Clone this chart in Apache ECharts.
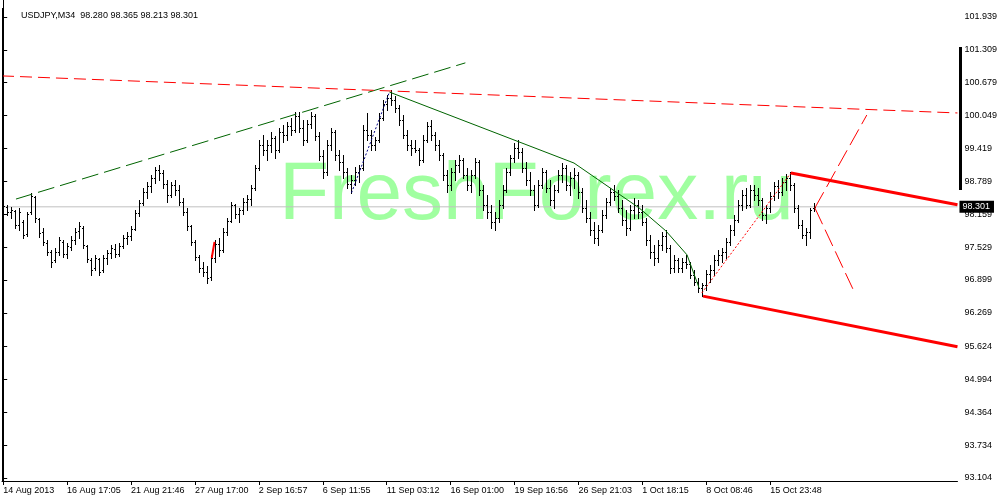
<!DOCTYPE html>
<html><head><meta charset="utf-8">
<script src="https://cdn.jsdelivr.net/npm/echarts@6/dist/echarts.min.js"></script>
<style>html,body{margin:0;padding:0;background:#fff}#c{width:1000px;height:500px}</style>
</head><body><div id="c"></div>
<script>
const headerText = 'USDJPY,M34  98.280 98.365 98.213 98.301';
const watermarkText = 'FreshForex.ru';

const opens = [
98.24,98.30,98.20,98.22,97.95,98.01,97.78,98.20,98.49,98.07,
97.82,97.61,97.44,97.28,97.44,97.63,97.40,97.53,97.67,97.84,
97.90,97.55,97.28,97.13,97.30,97.09,97.32,97.42,97.49,97.40,
97.55,97.70,97.74,97.88,98.18,98.38,98.59,98.70,98.85,99.01,
98.95,98.74,98.53,98.72,98.62,98.39,98.20,97.93,97.63,97.34,
97.13,97.05,96.96,97.32,97.59,97.47,97.82,98.03,98.34,98.16,
98.24,98.39,98.45,98.66,99.05,99.49,99.39,99.49,99.62,99.39,
99.74,99.68,99.85,99.77,100.04,99.81,99.58,99.89,100.04,99.66,
99.27,98.97,99.49,99.74,99.29,99.16,98.97,98.74,98.82,98.97,
99.05,99.77,99.68,99.49,99.58,100.00,100.27,100.39,100.35,100.20,
99.97,99.68,99.49,99.43,99.39,99.20,99.58,99.85,99.68,99.49,
99.29,98.91,98.72,98.97,99.10,99.20,98.91,98.72,98.91,99.16,
98.62,98.34,98.20,98.01,98.09,98.34,98.62,98.97,99.24,99.43,
99.35,99.05,98.82,98.62,98.34,98.72,98.97,98.66,98.43,98.62,
98.91,99.05,98.72,98.85,98.91,98.59,98.28,98.09,97.86,97.70,
97.86,98.15,98.39,98.59,98.51,98.28,98.05,97.90,98.24,98.34,
98.20,98.01,97.67,97.44,97.32,97.57,97.74,97.51,97.13,97.28,
97.13,97.24,97.21,97.00,96.86,96.75,96.80,97.01,97.09,97.28,
97.38,97.44,97.63,97.86,98.05,98.34,98.53,98.34,98.62,98.53,
98.43,98.15,98.28,98.51,98.70,98.59,98.78,98.85,98.72,98.28,
97.95,97.76,97.82,98.280];

const highs = [
98.38,98.34,98.30,98.24,98.28,98.05,98.20,98.57,98.51,98.09,
97.90,97.67,97.47,97.51,97.72,97.67,97.61,97.74,97.90,98.01,
97.93,97.57,97.32,97.38,97.32,97.38,97.47,97.57,97.59,97.61,
97.76,97.82,97.93,98.24,98.43,98.66,98.78,98.91,99.06,99.10,
99.01,98.82,98.78,98.82,98.72,98.47,98.28,97.95,97.67,97.38,
97.24,97.17,97.38,97.67,97.70,97.90,98.09,98.39,98.36,98.28,
98.47,98.53,98.72,99.10,99.58,99.68,99.58,99.74,99.66,99.81,
99.87,99.93,100.00,100.12,100.12,99.97,99.97,100.12,100.08,99.74,
99.39,99.58,99.81,99.77,99.39,99.29,99.05,98.91,99.06,99.10,
99.87,100.10,99.77,99.64,100.10,100.35,100.44,100.54,100.43,100.25,
100.06,99.77,99.58,99.58,99.43,99.68,99.93,99.97,99.74,99.58,
99.33,99.01,99.05,99.20,99.29,99.24,99.05,99.01,99.24,99.20,
98.72,98.53,98.34,98.20,98.43,98.72,99.05,99.29,99.52,99.58,
99.43,99.16,98.97,98.72,98.82,99.05,99.01,98.82,98.72,99.01,
99.14,99.10,98.97,99.05,98.97,98.66,98.43,98.20,98.01,97.95,
98.24,98.47,98.66,98.72,98.62,98.43,98.24,98.34,98.47,98.43,
98.34,98.09,97.76,97.57,97.67,97.82,97.86,97.57,97.38,97.32,
97.32,97.38,97.24,97.09,96.94,96.84,97.09,97.19,97.38,97.47,
97.51,97.70,97.95,98.15,98.43,98.62,98.66,98.72,98.72,98.66,
98.47,98.34,98.59,98.78,98.82,98.85,98.93,98.97,98.76,98.34,
98.05,97.90,98.28,98.365];

const lows = [
98.11,98.15,98.09,97.90,97.86,97.70,97.74,98.16,98.01,97.72,
97.57,97.38,97.15,97.24,97.38,97.34,97.32,97.47,97.59,97.70,
97.51,97.24,97.00,97.09,97.00,97.05,97.21,97.32,97.34,97.36,
97.51,97.59,97.67,97.86,98.13,98.34,98.47,98.59,98.76,98.82,
98.66,98.39,98.49,98.53,98.34,98.15,97.86,97.57,97.28,97.05,
96.98,96.84,96.90,97.24,97.36,97.44,97.76,98.01,98.09,98.01,
98.16,98.24,98.34,98.62,99.01,99.29,99.20,99.35,99.24,99.35,
99.54,99.58,99.68,99.74,99.74,99.49,99.54,99.81,99.58,99.20,
98.85,98.91,99.39,99.20,99.01,98.85,98.66,98.57,98.72,98.78,
99.01,99.58,99.39,99.39,99.54,99.97,100.16,100.25,100.12,99.87,
99.62,99.39,99.29,99.35,99.10,99.16,99.54,99.58,99.39,99.20,
98.82,98.59,98.62,98.82,98.97,98.85,98.62,98.59,98.85,98.53,
98.24,98.09,97.90,97.86,98.01,98.28,98.59,98.91,99.16,99.24,
98.97,98.72,98.53,98.24,98.30,98.66,98.59,98.34,98.28,98.59,
98.78,98.62,98.53,98.66,98.47,98.20,98.01,97.76,97.61,97.57,
97.82,98.09,98.34,98.43,98.20,97.95,97.76,97.86,98.09,98.09,
97.95,97.57,97.32,97.19,97.24,97.47,97.44,97.03,97.05,97.05,
97.05,97.13,96.94,96.80,96.67,96.59,96.71,96.86,97.00,97.19,
97.24,97.32,97.57,97.76,98.01,98.24,98.28,98.30,98.43,98.34,
98.05,97.99,98.20,98.43,98.47,98.53,98.62,98.62,98.20,97.90,
97.70,97.57,97.70,98.213];

const closes = [
98.32,98.20,98.24,97.95,98.20,97.76,98.16,98.51,98.09,97.80,
97.63,97.44,97.24,97.44,97.67,97.40,97.55,97.67,97.82,97.93,
97.57,97.30,97.09,97.32,97.05,97.32,97.42,97.51,97.40,97.55,
97.70,97.74,97.88,98.18,98.38,98.59,98.70,98.85,99.01,98.95,
98.74,98.53,98.72,98.62,98.39,98.20,97.93,97.63,97.34,97.13,
97.05,96.94,97.32,97.59,97.47,97.82,98.03,98.34,98.16,98.24,
98.39,98.45,98.66,99.05,99.49,99.39,99.49,99.62,99.39,99.74,
99.68,99.85,99.77,100.04,99.81,99.58,99.89,100.04,99.66,99.27,
98.97,99.49,99.74,99.29,99.16,98.97,98.74,98.82,98.97,99.05,
99.77,99.68,99.49,99.58,100.00,100.27,100.39,100.35,100.20,99.97,
99.68,99.49,99.43,99.39,99.20,99.58,99.85,99.68,99.49,99.29,
98.91,98.72,98.97,99.10,99.20,98.91,98.72,98.91,99.16,98.62,
98.34,98.20,98.01,98.09,98.34,98.62,98.97,99.24,99.43,99.35,
99.05,98.82,98.62,98.34,98.72,98.97,98.66,98.43,98.62,98.91,
99.05,98.72,98.85,98.91,98.59,98.28,98.09,97.86,97.70,97.86,
98.15,98.39,98.59,98.51,98.28,98.05,97.90,98.24,98.34,98.20,
98.01,97.67,97.44,97.32,97.57,97.74,97.51,97.13,97.28,97.13,
97.24,97.21,97.00,96.86,96.75,96.80,97.01,97.09,97.28,97.38,
97.44,97.63,97.86,98.05,98.34,98.53,98.34,98.62,98.53,98.43,
98.15,98.28,98.51,98.70,98.59,98.78,98.85,98.72,98.28,97.95,
97.76,97.82,98.24,98.301];

const yTicks = [101.939,101.309,100.679,100.049,99.419,98.789,98.159,97.529,96.899,96.269,95.624,94.994,94.364,93.734,93.104];
const xTickIdx = [0,16,32,48,64,80,96,112,128,144,160,176,192];
const xLabels = ['14 Aug 2013','16 Aug 17:05','21 Aug 21:46','27 Aug 17:00','2 Sep 16:57','6 Sep 11:55','11 Sep 03:12','16 Sep 01:00','19 Sep 16:56','26 Sep 21:03','1 Oct 18:15','8 Oct 08:46','15 Oct 23:48'];

// drawn objects (bar index, price)
const greenDashed   = [[3.2,98.45],[115.7,101.06]];
const redDashedLong = [[-0.3,100.81],[238.9,100.10]];
const greenSolid    = [[96.7,100.50],[142.9,99.14],[159.2,98.28],[165.9,97.84],[171.2,97.38],[174.2,96.75]];
const navyDotted    = [[87.2,98.57],[96.7,100.50]];
const redDotted     = [[174.9,96.65],[197.2,98.95]];
const redThickUpper = [[197.2,98.95],[238.9,98.34]];
const redThickLower = [[175.2,96.59],[238.9,95.62]];
const redDashUp     = [[203.2,98.28],[216.2,100.06]];
const redDashDown   = [[203.2,98.28],[212.7,96.73]];
const redSmall      = [[52.2,97.32],[52.9,97.63]];

const X_MIN = -0.3, X_MAX = 238.9;
const Y_MIN = 93.0464, Y_MAX = 102.2648;
const FONT = '"Liberation Sans", Arial, sans-serif';

const ohlc = opens.map((o,i)=>[i,o,highs[i],lows[i],closes[i]]);
const lastClose = closes[closes.length-1];

function renderBar(params, api){
  const i = api.value(0);
  const pO = api.coord([i, api.value(1)]);
  const pH = api.coord([i, api.value(2)]);
  const pL = api.coord([i, api.value(3)]);
  const pC = api.coord([i, api.value(4)]);
  const x = Math.round(pO[0]);
  const st = {stroke:'#000', lineWidth:1};
  const yo = Math.round(pO[1]) + 0.5, yc = Math.round(pC[1]) + 0.5;
  return {type:'group', children:[
    {type:'line', shape:{x1:x+0.5, y1:Math.round(pH[1]), x2:x+0.5, y2:Math.round(pL[1])+1}, style:st},
    {type:'line', shape:{x1:x-1, y1:yo, x2:x, y2:yo}, style:st},
    {type:'line', shape:{x1:x+1, y1:yc, x2:x+2, y2:yc}, style:st}
  ]};
}

function lineSeries(data, color, width, type, z){
  return {type:'line', data:data, showSymbol:false, symbol:'none', silent:true, z:z||3,
    lineStyle:{color:color, width:width, type:type}, animation:false};
}

const chart = echarts.init(document.getElementById('c'), null, {renderer:'canvas'});
chart.setOption({
  animation:false,
  backgroundColor:'#fff',
  title:{text:headerText, left:16, top:6, textStyle:{fontSize:9, fontWeight:'normal', color:'#000', fontFamily:FONT}},
  grid:{left:2, right:41, top:0, bottom:19, containLabel:false},
  xAxis:{type:'value', min:X_MIN, max:X_MAX,
    axisLine:{show:true, lineStyle:{color:'#000', width:1}},
    axisTick:{show:true, customValues:xTickIdx, length:4, lineStyle:{color:'#000'}},
    axisLabel:{show:true, customValues:xTickIdx, align:'left', margin:5, color:'#000', fontSize:9, fontFamily:FONT,
      formatter:function(v){ const k = xTickIdx.indexOf(Math.round(v)); return k>=0 ? xLabels[k] : ''; }},
    splitLine:{show:false}},
  yAxis:{type:'value', position:'right', min:Y_MIN, max:Y_MAX,
    axisLine:{show:true, lineStyle:{color:'#000', width:1}},
    axisTick:{show:true, customValues:yTicks, length:4, lineStyle:{color:'#000'}},
    axisLabel:{show:true, customValues:yTicks, margin:7, color:'#000', fontSize:9, fontFamily:FONT,
      formatter:function(v){ return v.toFixed(3); }},
    splitLine:{show:false}},
  graphic:[
    {type:'text', left:279, top:155, z:0, silent:true,
      style:{text:watermarkText, font:'82px "Liberation Sans", Arial, sans-serif', fill:'#a0ffa0'}},
    {type:'line', z:5, silent:true, shape:{x1:2.5, y1:8, x2:2.5, y2:481}, style:{stroke:'#000', lineWidth:1}},
    {type:'rect', z:5, silent:true, shape:{x:959, y:47, width:3, height:143}, style:{fill:'#000'}}
  ],
  series:[
    {type:'line', data:[[X_MIN,lastClose],[X_MAX,lastClose]], showSymbol:false, symbol:'none', silent:true, z:1,
      lineStyle:{color:'#c0c0c0', width:1},
      endLabel:{show:true, formatter:lastClose.toFixed(3), backgroundColor:'#000', color:'#fff',
        padding:[2,4,1,3], fontSize:9, fontFamily:FONT, distance:2}},
    {type:'custom', data:ohlc, renderItem:renderBar, encode:{x:0, y:[1,2,3,4]}, z:2, silent:true, animation:false},
    lineSeries(greenDashed, '#006400', 1, [17,6]),
    lineSeries(redDashedLong, '#ff0000', 1, [12,6]),
    lineSeries(greenSolid, '#006400', 1, 'solid'),
    lineSeries(navyDotted, '#000080', 1, [2,2]),
    lineSeries(redDotted, '#ff0000', 1, [2,2]),
    lineSeries(redThickUpper, '#ff0000', 3, 'solid'),
    lineSeries(redThickLower, '#ff0000', 3, 'solid'),
    lineSeries(redDashUp, '#ff0000', 1, [18,6]),
    lineSeries(redDashDown, '#ff0000', 1, [18,6]),
    lineSeries(redSmall, '#ff0000', 2, 'solid')
  ]
});
</script>
</body></html>
